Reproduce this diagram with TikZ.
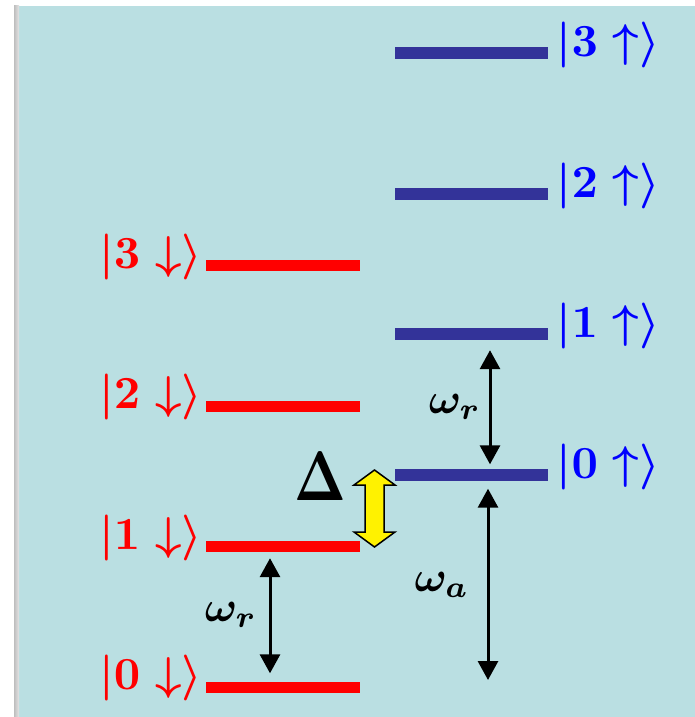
\documentclass[tikz,border=0pt]{standalone}
\usetikzlibrary{arrows.meta}
\definecolor{panel}{RGB}{186,223,226}
\definecolor{barblue}{RGB}{51,51,153}
\definecolor{txtblue}{RGB}{0,0,255}
\definecolor{txtred}{RGB}{255,0,0}
\definecolor{edgegrey}{RGB}{190,190,190}
\begin{document}
\begin{tikzpicture}[x=1pt,y=-1pt,
  redbar/.style={fill=txtred,draw=none,minimum width=154pt,minimum height=11pt,inner sep=0pt},
  bluebar/.style={fill=barblue,draw=none,minimum width=153pt,minimum height=12pt,inner sep=0pt},
  redlbl/.style={text=txtred,inner sep=0pt,font=\boldmath,scale=4.6,anchor=base east},
  bluelbl/.style={text=txtblue,inner sep=0pt,font=\boldmath,scale=4.6,anchor=base west},
  freq/.style={inner sep=0pt,font=\boldmath,scale=4.3},
  gap/.style={line width=3pt,{Triangle[width=20pt,length=19pt]}-{Triangle[width=20pt,length=19pt]}},
  yarrow/.style={fill=yellow,draw=black,line width=1.5pt,line join=miter}]
\useasboundingbox (0,0) rectangle (695,717);
% panel and its shaded left rim
\fill[white] (0,0) rectangle (695,717);
\fill[panel] (19,6) rectangle (695,717);
\shade[left color=edgegrey,right color=edgegrey!40!white] (14,6) rectangle (19,717);

% spin-down ladder
\node[redbar] (d3) at (283,265.5) {};
\node[redbar] (d2) at (283,406) {};
\node[redbar] (d1) at (283,546.5) {};
\node[redbar] (d0) at (283,687) {};
% spin-up ladder
\node[bluebar] (u3) at (471.5,53) {};
\node[bluebar] (u2) at (471.5,193.5) {};
\node[bluebar] (u1) at (471.5,334) {};
\node[bluebar] (u0) at (471.5,474.5) {};

% state labels
\node[redlbl] (l3d) at (203,268) {$|3\downarrow\rangle$};
\node[redlbl] (l2d) at (203,408.5) {$|2\downarrow\rangle$};
\node[redlbl] (l1d) at (203,549) {$|1\downarrow\rangle$};
\node[redlbl] (l0d) at (203,689.5) {$|0\downarrow\rangle$};
\node[bluelbl] (l3u) at (556,56.5) {$|3\uparrow\rangle$};
\node[bluelbl] (l2u) at (556,197) {$|2\uparrow\rangle$};
\node[bluelbl] (l1u) at (556,337.5) {$|1\uparrow\rangle$};
\node[bluelbl] (l0u) at (556,478) {$|0\uparrow\rangle$};

% transition frequencies
\draw[gap,shorten <=6pt,shorten >=8pt] ([xshift=-13pt]d1.south) -- ([xshift=-13pt]d0.north);
\node[freq] (wr1) at (231,615) {$\omega_r$};
\draw[gap,shorten <=10pt,shorten >=4pt] ([xshift=18.5pt]u1.south) -- ([xshift=18.5pt]u0.north);
\node[freq] (wr2) at (455,407) {$\omega_r$};
\coordinate (wabot) at (488,680);
\draw[gap,shorten <=8pt] ([xshift=16.5pt]u0.south) -- (wabot);
\node[freq] (wa) at (442,585) {$\omega_a$};

% detuning
\draw[yarrow] (374.5,470) -- (395,485) -- (384,485) -- (384,532) -- (395,532)
  -- (374.5,547) -- (354,532) -- (365,532) -- (365,485) -- (354,485) -- cycle;
\node[inner sep=0pt,scale=5.4,yscale=1.3] (delta) at (320,476) {$\mathbf{\Delta}$};
\end{tikzpicture}
\end{document}
